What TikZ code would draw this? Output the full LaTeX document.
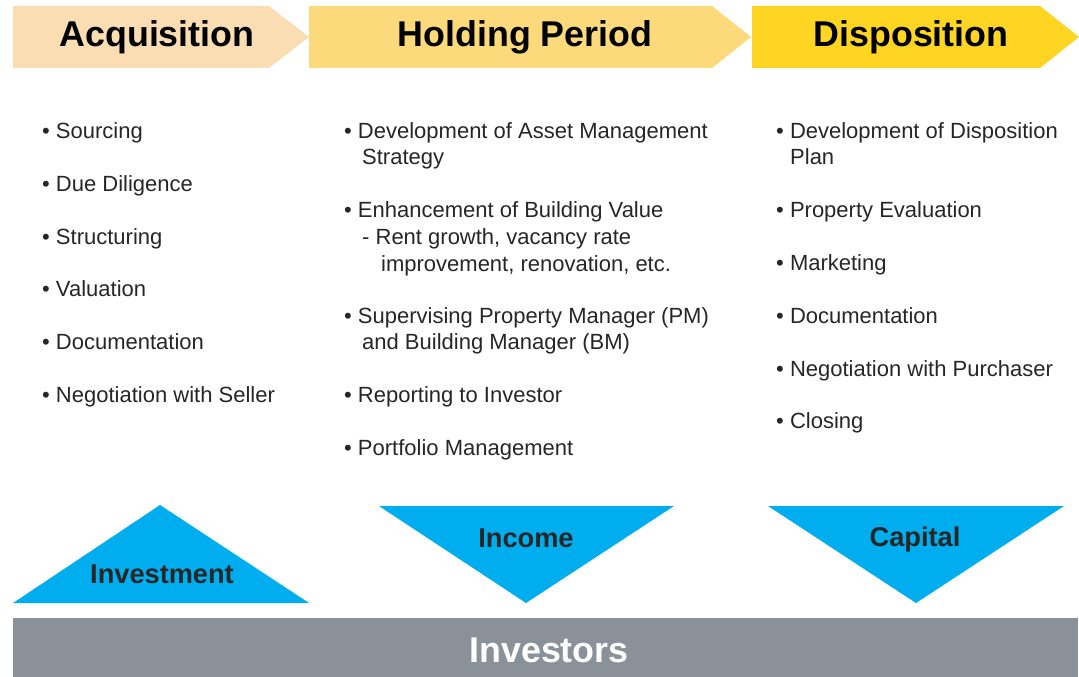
\documentclass[tikz,border=0pt]{standalone}
\usepackage{fontspec}
\setmainfont{Liberation Sans}
\definecolor{peach}{HTML}{FADDB3}
\definecolor{ylight}{HTML}{FCD97B}
\definecolor{ystrong}{HTML}{FED523}
\definecolor{cyanfill}{HTML}{00AEEF}
\definecolor{barfill}{HTML}{8A9199}
\definecolor{txt}{HTML}{262626}
\tikzset{
  hdr/.style={font=\fontsize{35.8}{40}\selectfont\bfseries, text=black, inner sep=0pt, anchor=base},
  item/.style={font=\fontsize{22}{26}\selectfont, text=txt, inner sep=0pt, anchor=base west},
  tri/.style={font=\fontsize{27.2}{30}\selectfont\bfseries, text=txt, inner sep=0pt, anchor=base},
}
\begin{document}
\begin{tikzpicture}[x=1pt,y=-1pt]
\useasboundingbox (0,0) rectangle (1079,677);
% chevrons
\fill[peach] (13,6) -- (269,6) -- (309,37) -- (269,68) -- (13,68) -- cycle;
\fill[ylight] (309,6) -- (712,6) -- (751,37) -- (712,68) -- (309,68) -- cycle;
\fill[ystrong] (752,6) -- (1040,6) -- (1079,37) -- (1040,68) -- (752,68) -- cycle;
\node[hdr] (h1) at (157,47) {Acquisition};
\node[hdr] (h2) at (525,47) {Holding Period};
\node[hdr] (h3) at (911,47) {Disposition};
% acquisition items
\node[item] (a1) at (42,138) {• Sourcing};
\node[item] (a2) at (42,191) {• Due Diligence};
\node[item] (a3) at (42,244) {• Structuring};
\node[item] (a4) at (42,296) {• Valuation};
\node[item] (a5) at (42,349) {• Documentation};
\node[item] (a6) at (42,402) {• Negotiation with Seller};
% holding items
\node[item] (b1) at (344,138) {• Development of Asset Management};
\node[item] (b1b) at (362,164) {Strategy};
\node[item] (b2) at (344,217) {• Enhancement of Building Value};
\node[item] (b2b) at (362,244) {- Rent growth, vacancy rate};
\node[item] (b2c) at (381,271) {improvement, renovation, etc.};
\node[item] (b3) at (344,323) {• Supervising Property Manager (PM)};
\node[item] (b3b) at (362,349) {and Building Manager (BM)};
\node[item] (b4) at (344,402) {• Reporting to Investor};
\node[item] (b5) at (344,455) {• Portfolio Management};
% disposition items
\node[item] (c1) at (776,138) {• Development of Disposition};
\node[item] (c1b) at (790,164) {Plan};
\node[item] (c2) at (776,217) {• Property Evaluation};
\node[item] (c3) at (776,270) {• Marketing};
\node[item] (c4) at (776,323) {• Documentation};
\node[item] (c5) at (776,376) {• Negotiation with Purchaser};
\node[item] (c6) at (776,428) {• Closing};
% triangles
\fill[cyanfill] (13,603) -- (160,505) -- (309,603) -- cycle;
\fill[cyanfill] (379,506) -- (674,506) -- (526,603) -- cycle;
\fill[cyanfill] (768,506) -- (1064,506) -- (916,603) -- cycle;
\node[tri] (t1) at (162,583) {Investment};
\node[tri] (t2) at (526,547) {Income};
\node[tri] (t3) at (915,546) {Capital};
% investors bar
\fill[barfill] (13,618) rectangle (1078,677);
\node[hdr, text=white] (inv) at (549,662) {Investors};
\end{tikzpicture}
\end{document}
